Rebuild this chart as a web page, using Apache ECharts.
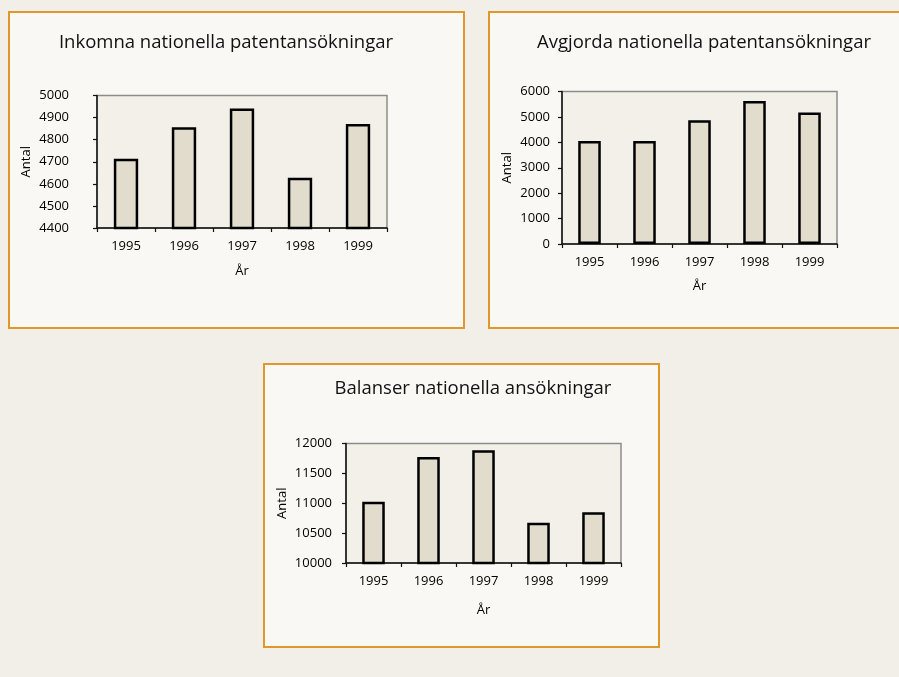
<!DOCTYPE html>
<html>
<head>
<meta charset="utf-8">
<script src="https://cdn.jsdelivr.net/npm/echarts@6/dist/echarts.min.js"></script>
<style>
html,body{margin:0;padding:0;background:#f2efe8;}
#c{width:899px;height:677px;}
</style>
</head>
<body>
<div id="c"></div>
<script>
const years = ['1995', '1996', '1997', '1998', '1999'];
const titles = ['Inkomna nationella patentansökningar', 'Avgjorda nationella patentansökningar', 'Balanser nationella ansökningar'];
const inkomna = [4714, 4856, 4941, 4627, 4871];
const avgjorda = [4050, 4050, 4870, 5630, 5170];
const balanser = [11025, 11775, 11885, 10675, 10848];
const yMin = [4400, 0, 10000];
const yMax = [5000, 6000, 12000];
const yInterval = [100, 1000, 500];
const yName = 'Antal';
const xName = 'År';

const FONT = 'Open Sans';
const grids = [
  {left: 97, top: 95.5, width: 290, height: 132.5},
  {left: 562, top: 91.5, width: 275, height: 152.5},
  {left: 346, top: 443.5, width: 275, height: 119.5}
];
const yLabelMargin = [28, 12, 14];
const yNameGap = [64, 48, 57];
const xNameGap = [37, 36, 41];
const titlePos = [[221, 28], [699, 28], [468, 374]];
const barW = ['42%', '41%', '41%'];
const seriesData = [inkomna, avgjorda, balanser];

const chart = echarts.init(document.getElementById('c'));
const option = {
  backgroundColor: '#f2efe8',
  animation: false,
  title: titles.map((t, i) => ({
    text: t, left: titlePos[i][0], top: titlePos[i][1], textAlign: 'center',
    textStyle: {fontFamily: FONT, fontSize: 18.5, fontWeight: 'normal', color: '#111'}
  })),
  graphic: {
    elements: [
      {type: 'rect', z: -100, silent: true, shape: {x: 9, y: 12, width: 455, height: 316}, style: {fill: '#f9f8f4', stroke: '#e0982a', lineWidth: 2}},
      {type: 'rect', z: -100, silent: true, shape: {x: 489, y: 12, width: 420, height: 316}, style: {fill: '#f9f8f4', stroke: '#e0982a', lineWidth: 2}},
      {type: 'rect', z: -100, silent: true, shape: {x: 264, y: 364, width: 395, height: 283}, style: {fill: '#f9f8f4', stroke: '#e0982a', lineWidth: 2}}
    ]
  },
  grid: grids.map(g => Object.assign({
    show: true, backgroundColor: '#f3f0e9', borderColor: '#8c8c8c', borderWidth: 1.5, containLabel: false
  }, g)),
  xAxis: grids.map((g, i) => ({
    type: 'category', gridIndex: i, data: years,
    name: xName, nameLocation: 'middle', nameGap: xNameGap[i],
    nameTextStyle: {fontFamily: FONT, fontSize: 13, color: '#000'},
    axisLine: {lineStyle: {color: '#111', width: 1.5}},
    axisTick: {show: true, length: 4, lineStyle: {color: '#111', width: 1.2}},
    axisLabel: {fontFamily: FONT, fontSize: 13, color: '#000', margin: 12},
    splitLine: {show: false}
  })),
  yAxis: grids.map((g, i) => ({
    type: 'value', gridIndex: i, min: yMin[i], max: yMax[i], interval: yInterval[i],
    name: yName, nameLocation: 'middle', nameGap: yNameGap[i], nameRotate: 90,
    nameTextStyle: {fontFamily: FONT, fontSize: 13, color: '#000'},
    axisLine: {show: true, lineStyle: {color: '#111', width: 1.5}},
    axisTick: {show: true, length: 4, lineStyle: {color: '#111', width: 1.2}},
    axisLabel: {fontFamily: FONT, fontSize: 13, color: '#000', margin: yLabelMargin[i], formatter: v => String(v)},
    splitLine: {show: false}
  })),
  series: seriesData.map((d, i) => ({
    type: 'bar', xAxisIndex: i, yAxisIndex: i, data: d, barWidth: barW[i],
    itemStyle: {color: '#e1dccc', borderColor: '#000', borderWidth: 2.5}
  }))
};
chart.setOption(option);
</script>
</body>
</html>
